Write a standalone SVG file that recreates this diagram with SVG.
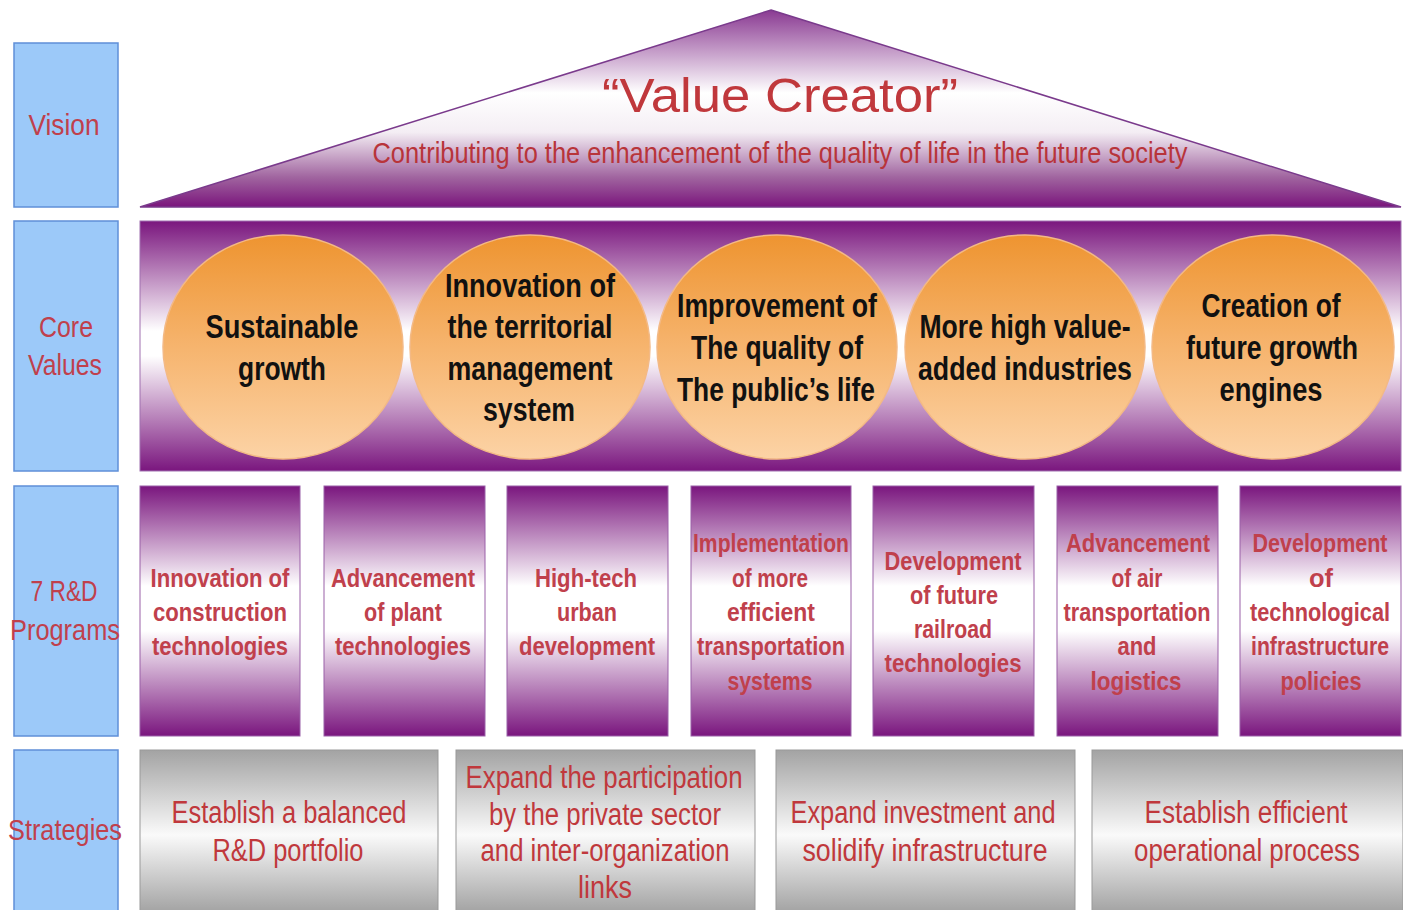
<svg xmlns="http://www.w3.org/2000/svg" width="1403" height="910" viewBox="0 0 1403 910">
<defs>
<linearGradient id="gRoof" gradientUnits="userSpaceOnUse" x1="0" y1="10" x2="0" y2="207">
<stop offset="0" stop-color="#8a3a92"/>
<stop offset="0.42" stop-color="#ffffff"/>
<stop offset="0.62" stop-color="#f4eef4"/>
<stop offset="0.85" stop-color="#a0649f"/>
<stop offset="1" stop-color="#7a157c"/>
</linearGradient>
<linearGradient id="gBand" x1="0" y1="0" x2="0" y2="1">
<stop offset="0" stop-color="#7a167e"/>
<stop offset="0.44" stop-color="#ffffff"/>
<stop offset="0.54" stop-color="#ffffff"/>
<stop offset="1" stop-color="#7a167e"/>
</linearGradient>
<linearGradient id="gProg" x1="0" y1="0" x2="0" y2="1">
<stop offset="0" stop-color="#7a167e"/>
<stop offset="0.4" stop-color="#ffffff"/>
<stop offset="0.58" stop-color="#ffffff"/>
<stop offset="1" stop-color="#7a167e"/>
</linearGradient>
<linearGradient id="gGray" x1="0" y1="0" x2="0" y2="1">
<stop offset="0" stop-color="#a3a3a3"/>
<stop offset="0.5" stop-color="#fafafa"/>
<stop offset="1" stop-color="#9a9a9a"/>
</linearGradient>
<linearGradient id="gOrange" x1="0" y1="0" x2="0" y2="1">
<stop offset="0" stop-color="#ee9430"/>
<stop offset="0.5" stop-color="#f6b46e"/>
<stop offset="1" stop-color="#fcd3a6"/>
</linearGradient>
<style>
.lab{fill:#9cc9f9;stroke:#5f8fd8;stroke-width:1.5}
.lt{font-family:"Liberation Sans Narrow","Liberation Sans",Arial,sans-serif;font-size:29px;fill:#c0404c;text-anchor:middle}
.band{fill:url(#gBand);stroke:#a070b0;stroke-width:1}
.circ{fill:url(#gOrange);stroke:#f3b985;stroke-width:1.5}
.ct{font-family:"Liberation Sans Narrow","Liberation Sans",Arial,sans-serif;font-size:33px;font-weight:bold;fill:#111;text-anchor:middle}
.prog{fill:url(#gProg);stroke:#9a60a8;stroke-width:1}
.pt{font-family:"Liberation Sans Narrow","Liberation Sans",Arial,sans-serif;font-size:26px;font-weight:bold;fill:#c0404c;text-anchor:middle}
.strat{fill:url(#gGray);stroke:#999;stroke-width:1}
.st{font-family:"Liberation Sans Narrow","Liberation Sans",Arial,sans-serif;font-size:31px;fill:#c0383c;text-anchor:middle}
.title{font-family:"Liberation Sans",Arial,sans-serif;font-size:48px;fill:#c0383c;text-anchor:middle}
.sub{font-family:"Liberation Sans Narrow","Liberation Sans",Arial,sans-serif;font-size:29px;fill:#b8343a;text-anchor:middle}
</style>
</defs>
<rect x="0" y="0" width="1403" height="910" fill="#ffffff"/>

<g id="label-vision"><rect class="lab" x="14" y="43" width="104" height="164"/><text class="lt" x="64" y="135" textLength="71" lengthAdjust="spacingAndGlyphs">Vision</text></g>
<g id="label-core"><rect class="lab" x="14" y="221" width="104" height="250"/><text class="lt" x="66" y="337" textLength="54" lengthAdjust="spacingAndGlyphs">Core</text><text class="lt" x="65" y="375" textLength="74" lengthAdjust="spacingAndGlyphs">Values</text></g>
<g id="label-programs"><rect class="lab" x="14" y="486" width="104" height="250"/><text class="lt" x="64" y="601" textLength="67" lengthAdjust="spacingAndGlyphs">7 R&amp;D</text><text class="lt" x="65" y="640" textLength="110" lengthAdjust="spacingAndGlyphs">Programs</text></g>
<g id="label-strategies"><rect class="lab" x="14" y="750" width="104" height="165"/><text class="lt" x="65" y="840" textLength="114" lengthAdjust="spacingAndGlyphs">Strategies</text></g>

<g id="vision">
<polygon points="771,10 1401,207 140,207" fill="url(#gRoof)" stroke="#7a3a8c" stroke-width="1.5"/>
<text class="title" x="780" y="112" textLength="356" lengthAdjust="spacingAndGlyphs">“Value Creator”</text>
<text class="sub" x="780" y="163" textLength="815" lengthAdjust="spacingAndGlyphs">Contributing to the enhancement of the quality of life in the future society</text>
</g>

<g id="core-values">
<rect class="band" x="140" y="221" width="1261" height="250"/>
</g>
<g id="cv-sustainable"><ellipse class="circ" cx="283" cy="347" rx="120" ry="112"/>
<text class="ct" x="282" y="338" textLength="153" lengthAdjust="spacingAndGlyphs">Sustainable</text>
<text class="ct" x="282" y="380" textLength="88" lengthAdjust="spacingAndGlyphs">growth</text></g>
<g id="cv-territorial"><ellipse class="circ" cx="530" cy="347" rx="120" ry="112"/>
<text class="ct" x="530" y="297" textLength="170" lengthAdjust="spacingAndGlyphs">Innovation of</text>
<text class="ct" x="530" y="338" textLength="165" lengthAdjust="spacingAndGlyphs">the territorial</text>
<text class="ct" x="530" y="380" textLength="165" lengthAdjust="spacingAndGlyphs">management</text>
<text class="ct" x="529" y="421" textLength="92" lengthAdjust="spacingAndGlyphs">system</text></g>
<g id="cv-quality"><ellipse class="circ" cx="777" cy="347" rx="120" ry="112"/>
<text class="ct" x="777" y="317" textLength="200" lengthAdjust="spacingAndGlyphs">Improvement of</text>
<text class="ct" x="777" y="359" textLength="172" lengthAdjust="spacingAndGlyphs">The quality of</text>
<text class="ct" x="776" y="401" textLength="198" lengthAdjust="spacingAndGlyphs">The public’s life</text></g>
<g id="cv-industries"><ellipse class="circ" cx="1025" cy="347" rx="120" ry="112"/>
<text class="ct" x="1025" y="338" textLength="211" lengthAdjust="spacingAndGlyphs">More high value-</text>
<text class="ct" x="1025" y="380" textLength="214" lengthAdjust="spacingAndGlyphs">added industries</text></g>
<g id="cv-engines"><ellipse class="circ" cx="1273" cy="347" rx="121" ry="112"/>
<text class="ct" x="1271" y="317" textLength="139" lengthAdjust="spacingAndGlyphs">Creation of</text>
<text class="ct" x="1272" y="359" textLength="172" lengthAdjust="spacingAndGlyphs">future growth</text>
<text class="ct" x="1271" y="401" textLength="103" lengthAdjust="spacingAndGlyphs">engines</text></g>

<g id="prog-construction"><rect class="prog" x="140" y="486" width="160" height="250"/>
<text class="pt" x="220" y="587" textLength="139" lengthAdjust="spacingAndGlyphs">Innovation of</text>
<text class="pt" x="220" y="621" textLength="134" lengthAdjust="spacingAndGlyphs">construction</text>
<text class="pt" x="220" y="655" textLength="136" lengthAdjust="spacingAndGlyphs">technologies</text></g>
<g id="prog-plant"><rect class="prog" x="324" y="486" width="161" height="250"/>
<text class="pt" x="403" y="587" textLength="144" lengthAdjust="spacingAndGlyphs">Advancement</text>
<text class="pt" x="403" y="621" textLength="78" lengthAdjust="spacingAndGlyphs">of plant</text>
<text class="pt" x="403" y="655" textLength="136" lengthAdjust="spacingAndGlyphs">technologies</text></g>
<g id="prog-urban"><rect class="prog" x="507" y="486" width="161" height="250"/>
<text class="pt" x="586" y="587" textLength="102" lengthAdjust="spacingAndGlyphs">High-tech</text>
<text class="pt" x="587" y="621" textLength="60" lengthAdjust="spacingAndGlyphs">urban</text>
<text class="pt" x="587" y="655" textLength="136" lengthAdjust="spacingAndGlyphs">development</text></g>
<g id="prog-transport"><rect class="prog" x="691" y="486" width="160" height="250"/>
<text class="pt" x="771" y="552" textLength="156" lengthAdjust="spacingAndGlyphs">Implementation</text>
<text class="pt" x="770" y="587" textLength="76" lengthAdjust="spacingAndGlyphs">of more</text>
<text class="pt" x="771" y="621" textLength="88" lengthAdjust="spacingAndGlyphs">efficient</text>
<text class="pt" x="771" y="655" textLength="148" lengthAdjust="spacingAndGlyphs">transportation</text>
<text class="pt" x="770" y="690" textLength="85" lengthAdjust="spacingAndGlyphs">systems</text></g>
<g id="prog-railroad"><rect class="prog" x="873" y="486" width="161" height="250"/>
<text class="pt" x="953" y="570" textLength="137" lengthAdjust="spacingAndGlyphs">Development</text>
<text class="pt" x="954" y="604" textLength="88" lengthAdjust="spacingAndGlyphs">of future</text>
<text class="pt" x="953" y="638" textLength="78" lengthAdjust="spacingAndGlyphs">railroad</text>
<text class="pt" x="953" y="672" textLength="137" lengthAdjust="spacingAndGlyphs">technologies</text></g>
<g id="prog-air"><rect class="prog" x="1057" y="486" width="161" height="250"/>
<text class="pt" x="1138" y="552" textLength="144" lengthAdjust="spacingAndGlyphs">Advancement</text>
<text class="pt" x="1137" y="587" textLength="51" lengthAdjust="spacingAndGlyphs">of air</text>
<text class="pt" x="1137" y="621" textLength="147" lengthAdjust="spacingAndGlyphs">transportation</text>
<text class="pt" x="1137" y="655" textLength="39" lengthAdjust="spacingAndGlyphs">and</text>
<text class="pt" x="1136" y="690" textLength="91" lengthAdjust="spacingAndGlyphs">logistics</text></g>
<g id="prog-policies"><rect class="prog" x="1240" y="486" width="161" height="250"/>
<text class="pt" x="1320" y="552" textLength="135" lengthAdjust="spacingAndGlyphs">Development</text>
<text class="pt" x="1321" y="587" textLength="24" lengthAdjust="spacingAndGlyphs">of</text>
<text class="pt" x="1320" y="621" textLength="140" lengthAdjust="spacingAndGlyphs">technological</text>
<text class="pt" x="1320" y="655" textLength="138" lengthAdjust="spacingAndGlyphs">infrastructure</text>
<text class="pt" x="1321" y="690" textLength="81" lengthAdjust="spacingAndGlyphs">policies</text></g>

<g id="strat-portfolio"><rect class="strat" x="140" y="750" width="298" height="170"/>
<text class="st" x="289" y="823" textLength="235" lengthAdjust="spacingAndGlyphs">Establish a balanced</text>
<text class="st" x="288" y="861" textLength="151" lengthAdjust="spacingAndGlyphs">R&amp;D portfolio</text></g>
<g id="strat-participation"><rect class="strat" x="456" y="750" width="299" height="170"/>
<text class="st" x="604" y="788" textLength="277" lengthAdjust="spacingAndGlyphs">Expand the participation</text>
<text class="st" x="605" y="825" textLength="232" lengthAdjust="spacingAndGlyphs">by the private sector</text>
<text class="st" x="605" y="861" textLength="249" lengthAdjust="spacingAndGlyphs">and inter-organization</text>
<text class="st" x="605" y="898" textLength="54" lengthAdjust="spacingAndGlyphs">links</text></g>
<g id="strat-investment"><rect class="strat" x="776" y="750" width="299" height="170"/>
<text class="st" x="923" y="823" textLength="265" lengthAdjust="spacingAndGlyphs">Expand investment and</text>
<text class="st" x="925" y="861" textLength="245" lengthAdjust="spacingAndGlyphs">solidify infrastructure</text></g>
<g id="strat-operational"><rect class="strat" x="1092" y="750" width="311" height="170"/>
<text class="st" x="1246" y="823" textLength="203" lengthAdjust="spacingAndGlyphs">Establish efficient</text>
<text class="st" x="1247" y="861" textLength="226" lengthAdjust="spacingAndGlyphs">operational process</text></g>
</svg>
